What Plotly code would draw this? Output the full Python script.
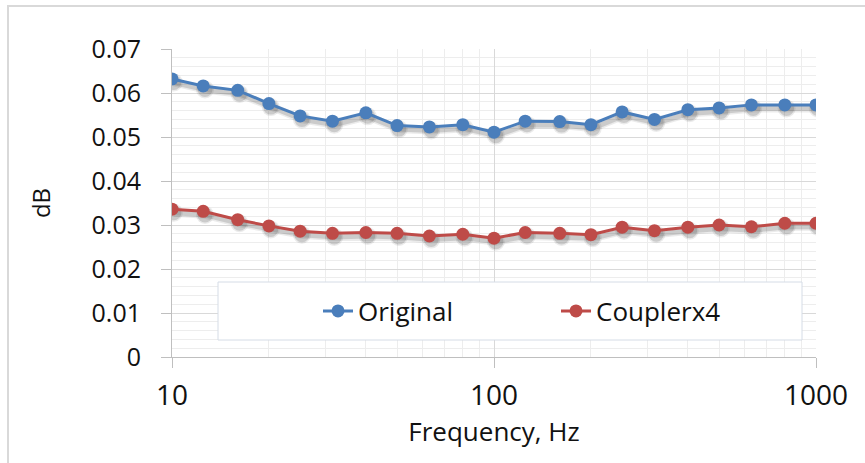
import plotly.graph_objects as go

# One-third-octave band centre frequencies (Hz)
freq = [10, 12.5, 16, 20, 25, 31.5, 40, 50, 63, 80, 100,
        125, 160, 200, 250, 315, 400, 500, 630, 800, 1000]

# Level per band (dB)
original = [0.0632, 0.0616, 0.0606, 0.0576, 0.0548, 0.0536, 0.0555, 0.0526,
            0.0523, 0.0528, 0.0511, 0.0536, 0.0535, 0.0528, 0.0557, 0.0540,
            0.0562, 0.0566, 0.0573, 0.0573, 0.0573]
couplerx4 = [0.0336, 0.0331, 0.0312, 0.0298, 0.0286, 0.0281, 0.0283, 0.0281,
             0.0275, 0.0279, 0.0270, 0.0283, 0.0281, 0.0278, 0.0295, 0.0287,
             0.0295, 0.0300, 0.0296, 0.0304, 0.0304]

x_ticks = [10, 100, 1000]
x_minor = [20, 30, 40, 50, 60, 70, 80, 90, 200, 300, 400, 500, 600, 700, 800, 900]

BLUE = "#4A7EBB"
RED = "#BE4B48"
FONT = "Open Sans"
TXT = "#111111"

W, H = 865, 463
L, R, T, B = 172, 49, 49, 106

fig = go.Figure()

# soft drop shadows under each series
for ys in (original, couplerx4):
    for op, grow in ((0.10, 5), (0.18, 2)):
        fig.add_trace(go.Scatter(
            x=[f * 1.013 for f in freq], y=[v - 0.0008 for v in ys],
            mode="lines+markers", showlegend=False, hoverinfo="skip",
            line=dict(color=f"rgba(60,60,60,{op})", width=3 + grow),
            marker=dict(color=f"rgba(60,60,60,{op})", size=13 + grow),
        ))

fig.add_trace(go.Scatter(
    x=freq, y=original, name="Original", mode="lines+markers",
    line=dict(color=BLUE, width=3), marker=dict(color=BLUE, size=13),
))
fig.add_trace(go.Scatter(
    x=freq, y=couplerx4, name="Couplerx4", mode="lines+markers",
    line=dict(color=RED, width=3), marker=dict(color=RED, size=13),
))

pw = W - L - R
ph = H - T - B


def px(x):
    return (x - L) / pw


def py(y):
    return (H - B - y) / ph


# outer chart frame
fig.add_shape(type="rect", xref="paper", yref="paper",
              x0=px(8), x1=px(880), y0=py(480), y1=py(6),
              line=dict(color="#D9D9D9", width=2), fillcolor="rgba(0,0,0,0)",
              layer="below")
# legend box
fig.add_shape(type="rect", xref="paper", yref="paper",
              x0=px(218), x1=px(802), y0=py(340), y1=py(282),
              line=dict(color="#D5DCE6", width=1), fillcolor="white",
              layer="above")

fig.update_layout(
    width=W, height=H,
    margin=dict(l=L, r=R, t=T, b=B),
    paper_bgcolor="white", plot_bgcolor="white",
    font=dict(family=FONT, size=26, color=TXT),
    showlegend=True,
    legend=dict(
        orientation="h", x=px(318), y=py(311), xanchor="left", yanchor="middle",
        bgcolor="rgba(0,0,0,0)", borderwidth=0, entrywidth=193,
        font=dict(size=26, family=FONT, color=TXT),
    ),
    xaxis=dict(
        type="log", range=[1, 3], tickvals=x_ticks, ticktext=["10", "100", "1000"],
        ticks="outside", ticklen=10, tickcolor="#BFBFBF", tickwidth=1,
        ticklabelstandoff=3,
        showline=True, linecolor="#BFBFBF", linewidth=1,
        showgrid=True, gridcolor="#D9D9D9", gridwidth=1,
        minor=dict(tickvals=x_minor, showgrid=True, gridcolor="#EDEDED", ticks=""),
        title=dict(text="Frequency, Hz", standoff=10, font=dict(size=26)),
        tickfont=dict(size=28), zeroline=False,
    ),
    yaxis=dict(
        range=[0, 0.07], dtick=0.01, tick0=0,
        ticks="outside", ticklen=10, tickcolor="#BFBFBF", tickwidth=1,
        ticklabelstandoff=15,
        showline=True, linecolor="#BFBFBF", linewidth=1,
        showgrid=True, gridcolor="#D9D9D9", gridwidth=1,
        minor=dict(dtick=0.002, showgrid=True, gridcolor="#EDEDED", ticks=""),
        title=dict(text="dB", standoff=34, font=dict(size=24)),
        tickfont=dict(size=25), zeroline=False,
    ),
)

fig.write_html("out.html")
